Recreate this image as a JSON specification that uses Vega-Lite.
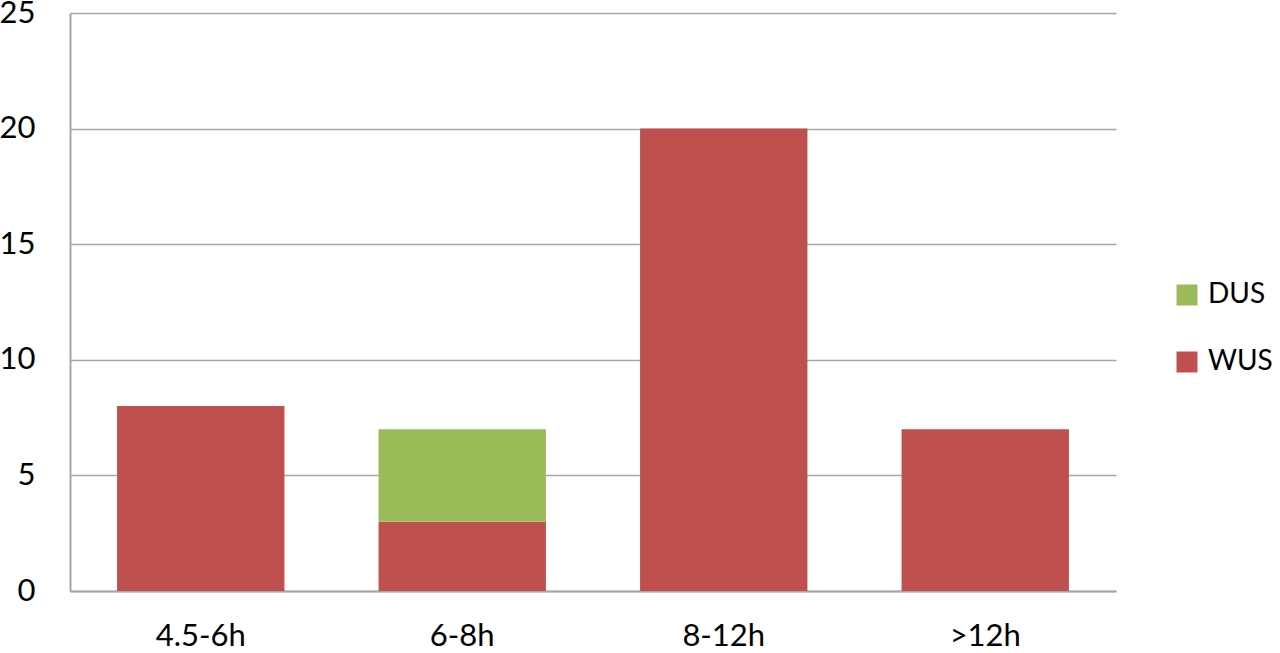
{
  "$schema": "https://vega.github.io/schema/vega-lite/v6.json",
  "autosize": "none",
  "width": 1046,
  "height": 578,
  "padding": {"left": 70, "top": 13, "right": 164, "bottom": 62},
  "background": "white",
  "config": {
    "view": {"stroke": null},
    "font": "Lato"
  },
  "data": {
    "values": [
      {"duration": "4.5-6h", "group": "WUS", "count": 8, "rank": 1},
      {"duration": "6-8h", "group": "WUS", "count": 3, "rank": 1},
      {"duration": "6-8h", "group": "DUS", "count": 4, "rank": 2},
      {"duration": "8-12h", "group": "WUS", "count": 20, "rank": 1},
      {"duration": ">12h", "group": "WUS", "count": 7, "rank": 1}
    ]
  },
  "mark": {"type": "bar"},
  "encoding": {
    "x": {
      "field": "duration",
      "type": "nominal",
      "sort": ["4.5-6h", "6-8h", "8-12h", ">12h"],
      "scale": {"paddingInner": 0.36, "paddingOuter": 0.18},
      "axis": {
        "title": null,
        "labelAngle": 0,
        "labelFontSize": 31,
        "labelColor": "#000000",
        "labelPadding": 30,
        "ticks": false,
        "domainColor": "#a6a6a6",
        "domainWidth": 2
      }
    },
    "y": {
      "field": "count",
      "type": "quantitative",
      "stack": "zero",
      "scale": {"domain": [0, 25]},
      "axis": {
        "title": null,
        "values": [0, 5, 10, 15, 20, 25],
        "labelFontSize": 31,
        "labelColor": "#000000",
        "labelPadding": 35,
        "ticks": false,
        "domainColor": "#a6a6a6",
        "domainWidth": 2,
        "gridColor": "#a6a6a6",
        "gridWidth": 1.5
      }
    },
    "color": {
      "field": "group",
      "type": "nominal",
      "scale": {"domain": ["DUS", "WUS"], "range": ["#9BBB59", "#C0504D"]},
      "legend": {
        "title": null,
        "orient": "none",
        "legendX": 1103,
        "legendY": 268,
        "symbolType": "square",
        "symbolSize": 441,
        "symbolStrokeWidth": 0,
        "labelFontSize": 28,
        "labelColor": "#000000",
        "rowPadding": 39,
        "labelOffset": 7
      }
    },
    "order": {"field": "rank", "type": "quantitative"}
  }
}
